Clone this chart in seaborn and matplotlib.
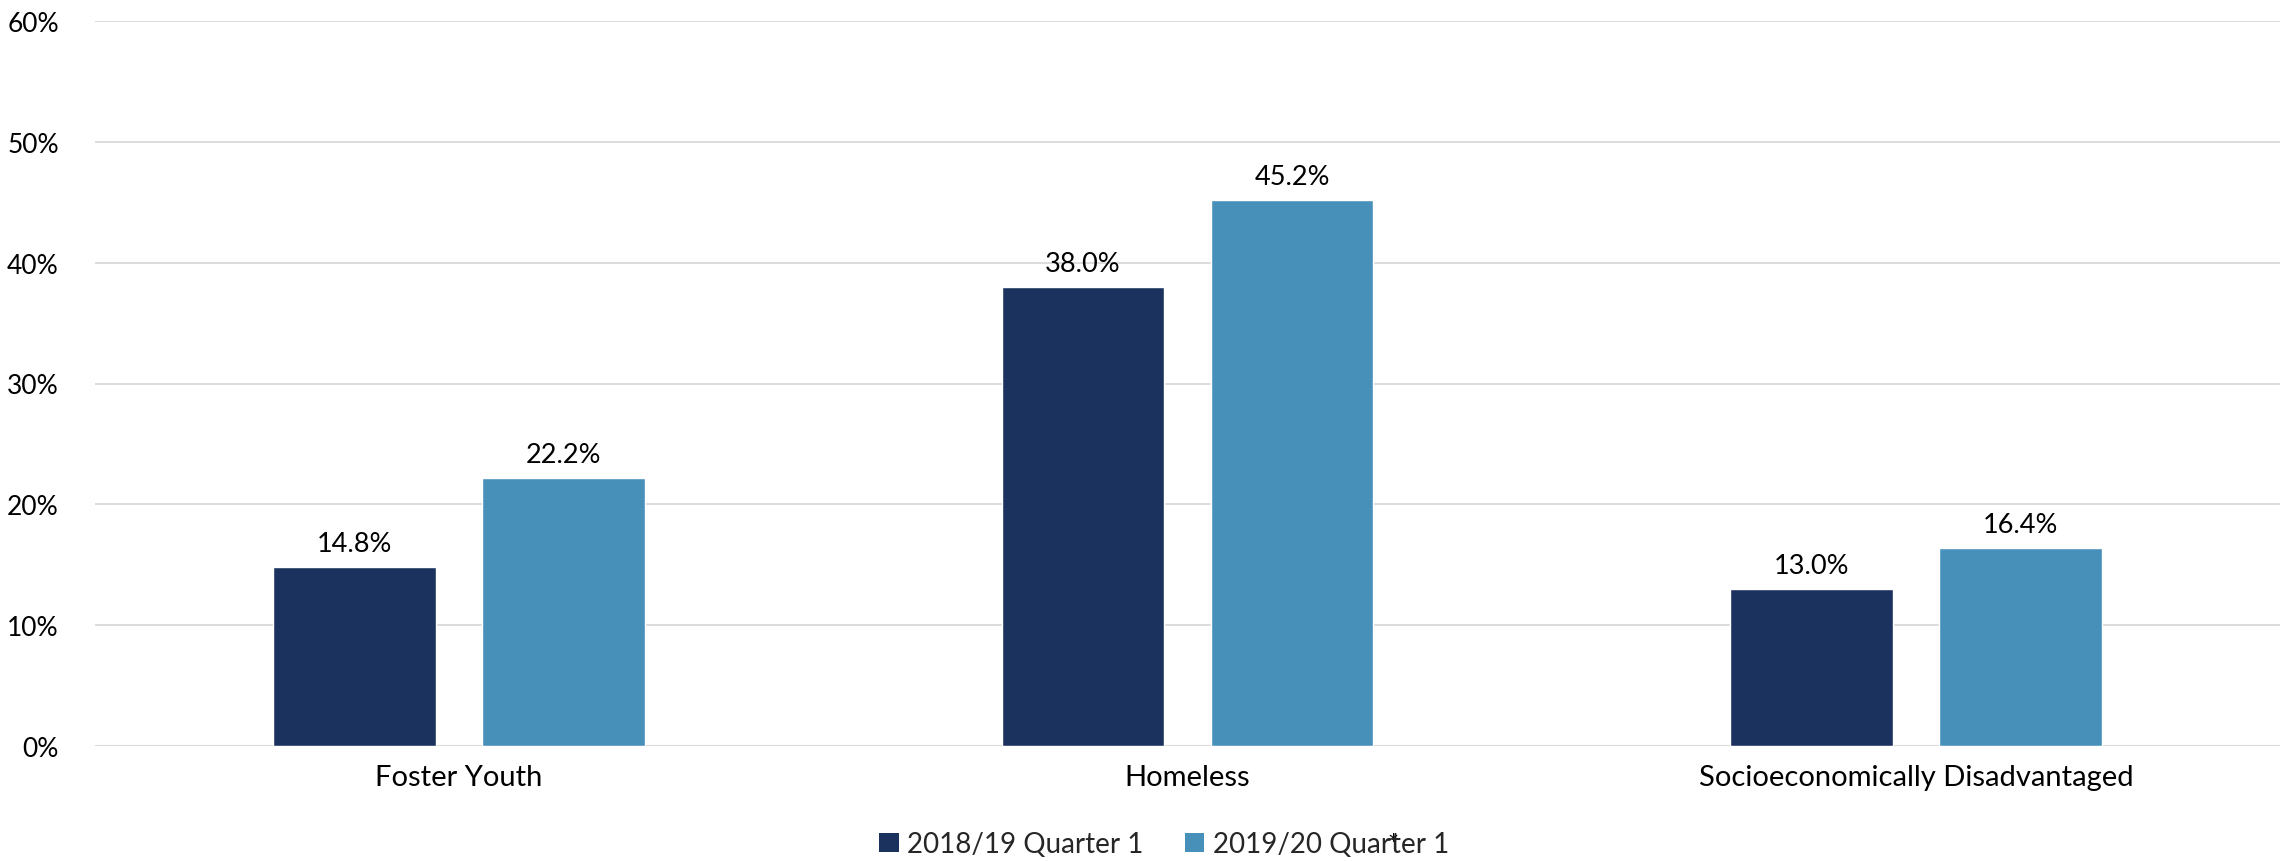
import matplotlib
matplotlib.use("Agg")
import matplotlib.pyplot as plt
import seaborn as sns
import pandas as pd
from matplotlib.patches import Patch

categories = ["Foster Youth", "Homeless", "Socioeconomically Disadvantaged"]
series_names = ["2018/19 Quarter 1", "2019/20 Quarter 1"]
values_2018 = [14.8, 38.0, 13.0]
values_2019 = [22.2, 45.2, 16.4]
y_ticks = [0, 10, 20, 30, 40, 50, 60]
colors = ["#1C325E", "#4790BA"]

df = pd.DataFrame({
    "group": categories * 2,
    "period": [series_names[0]] * 3 + [series_names[1]] * 3,
    "value": values_2018 + values_2019,
})

sns.set_theme(style="white")
plt.rcParams["font.family"] = ["Lato", "DejaVu Sans"]

W, H = 2292, 862
fig = plt.figure(figsize=(W / 100, H / 100), dpi=100)
ax = fig.add_axes([95 / W, 1 - 747 / H, (2280 - 95) / W, (747 - 22) / H])

sns.barplot(data=df, x="group", y="value", hue="period", order=categories,
            hue_order=series_names, palette=colors, width=0.574, gap=0.223,
            saturation=1, ax=ax, legend=False, errorbar=None)

ax.set_ylim(0, 60)
ax.set_xlim(-0.5, 2.5)
ax.set_yticks(y_ticks)
ax.set_yticklabels([f"{t}%" for t in y_ticks], fontsize=19, color="#000000")
ax.tick_params(axis="x", labelsize=21, colors="#000000", pad=13, length=0)
ax.tick_params(axis="y", pad=26, length=0)
ax.set_xlabel("")
ax.set_ylabel("")
ax.yaxis.grid(True, color="#D9D9D9", linewidth=1.3)
ax.set_axisbelow(True)
for s in ["top", "right", "left", "bottom"]:
    ax.spines[s].set_visible(False)
ax.axhline(0, color="#D9D9D9", linewidth=1.5, zorder=0.5)

for container in ax.containers:
    ax.bar_label(container, fmt="%.1f%%", padding=8, fontsize=19.5, color="#000000")

handles = [Patch(facecolor=c, edgecolor="none") for c in colors]
fig.legend(handles, series_names, loc="center", bbox_to_anchor=(1164 / W, 1 - 845 / H),
           ncol=2, frameon=False, fontsize=20, handlelength=0.7, handleheight=0.7,
           handletextpad=0.3, columnspacing=1.5)
fig.text(1393 / W, 1 - 847 / H, "*", fontsize=19, ha="center", va="center", color="#000000")

fig.savefig("out.png", dpi=100, facecolor="white")
